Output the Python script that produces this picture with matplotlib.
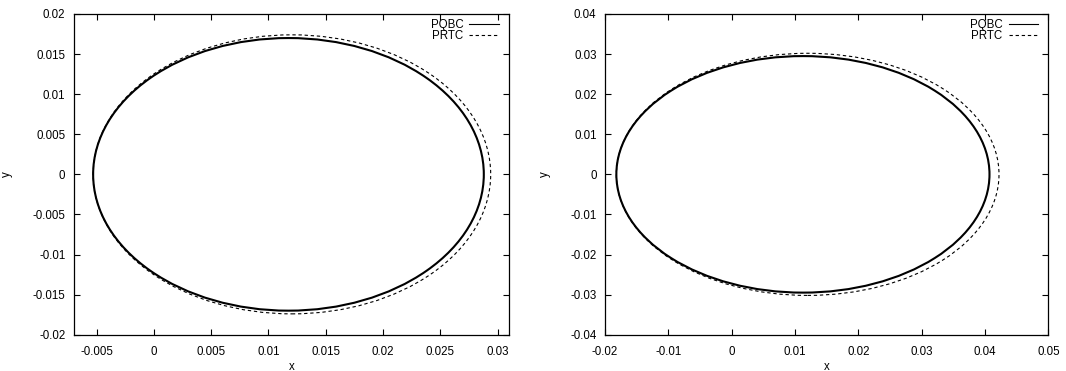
import matplotlib
matplotlib.use("Agg")
import matplotlib.pyplot as plt
from matplotlib.patches import Ellipse
from matplotlib.lines import Line2D

plt.rcParams['font.family'] = ['Liberation Sans', 'DejaVu Sans']
plt.rcParams['font.size'] = 8.3

# orbit extents (PQBC, PRTC)
series = ['PQBC', 'PRTC']

left_xmin = [-0.0053, -0.0053]
left_xmax = [0.0288, 0.0294]
left_ymax = [0.0170, 0.0174]

right_xmin = [-0.0182, -0.0182]
right_xmax = [0.0407, 0.0422]
right_ymax = [0.0295, 0.0302]

# axis ranges and ticks
left_xticks = [-0.005, 0, 0.005, 0.01, 0.015, 0.02, 0.025, 0.03]
left_yticks = [-0.02, -0.015, -0.01, -0.005, 0, 0.005, 0.01, 0.015, 0.02]
left_xlim = (-0.007, 0.031)
left_ylim = (-0.02, 0.02)

right_xticks = [-0.02, -0.01, 0, 0.01, 0.02, 0.03, 0.04, 0.05]
right_yticks = [-0.04, -0.03, -0.02, -0.01, 0, 0.01, 0.02, 0.03, 0.04]
right_xlim = (-0.02, 0.05)
right_ylim = (-0.04, 0.04)

styles = [dict(ls='-', lw=1.5), dict(ls=(0, (3, 2.5)), lw=0.8)]

fig = plt.figure(figsize=(10.66, 3.71), dpi=100)
ax1 = fig.add_axes([0.0691, 0.0978, 0.4084, 0.8645])
ax2 = fig.add_axes([0.5675, 0.0978, 0.4160, 0.8645])


def draw(ax, xmin, xmax, ymax, xticks, yticks, xlim, ylim):
    for i in range(len(series)):
        cx = (xmin[i] + xmax[i]) / 2
        e = Ellipse((cx, 0), xmax[i] - xmin[i], 2 * ymax[i], fill=False,
                    edgecolor='black', **styles[i])
        ax.add_patch(e)
    ax.set_xlim(*xlim)
    ax.set_ylim(*ylim)
    ax.set_xticks(xticks)
    ax.set_yticks(yticks)
    ax.set_xticklabels(['%g' % t for t in xticks])
    ax.set_yticklabels(['%g' % t for t in yticks])
    ax.tick_params(direction='in', top=True, right=True, length=4, width=0.8)
    ax.tick_params(axis='x', pad=8)
    ax.tick_params(axis='y', pad=6)
    for s in ax.spines.values():
        s.set_linewidth(0.9)
    ax.set_xlabel('x', labelpad=2)
    ax.set_ylabel('y', labelpad=14)
    handles = [Line2D([], [], color='black', ls='-', lw=0.8),
               Line2D([], [], color='black', ls=(0, (3, 2.5)), lw=0.8)]
    ax.legend(handles, series, loc='upper right', bbox_to_anchor=(0.988, 1.0),
              frameon=False, markerfirst=False,
              handlelength=2.6, handletextpad=0.5, labelspacing=-0.08,
              borderaxespad=0.2, borderpad=0.2, fontsize=8.3)


draw(ax1, left_xmin, left_xmax, left_ymax, left_xticks, left_yticks, left_xlim, left_ylim)
draw(ax2, right_xmin, right_xmax, right_ymax, right_xticks, right_yticks, right_xlim, right_ylim)

fig.savefig('out.png', dpi=100)
